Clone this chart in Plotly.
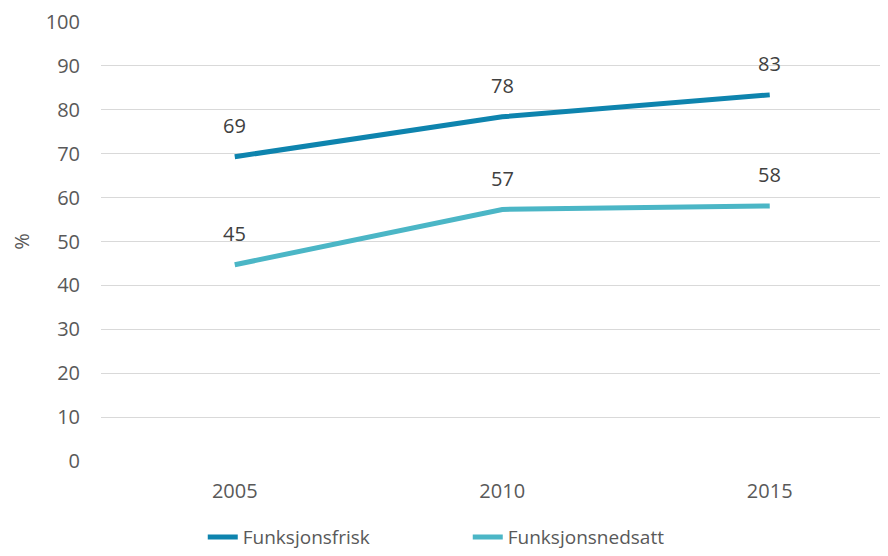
import plotly.graph_objects as go

years = ["2005", "2010", "2015"]
frisk = [69.3, 78.4, 83.4]
nedsatt = [44.7, 57.3, 58.1]
series_names = ["Funksjonsfrisk", "Funksjonsnedsatt"]
colors = ["#0e84ae", "#4bb6c6"]
y_ticks = list(range(0, 101, 10))

fig = go.Figure()
for name, vals, col in zip(series_names, [frisk, nedsatt], colors):
    fig.add_trace(go.Scatter(x=years, y=vals, mode="lines", name=name,
                             line=dict(color=col, width=5)))
    for i, yv in enumerate(vals):
        fig.add_annotation(x=i, y=yv, xref="x", yref="y", text=f"{yv:.0f}",
                           showarrow=False, yshift=31,
                           font=dict(size=20, color="#404040", family="Open Sans"))

fig.update_layout(
    width=888, height=556,
    margin=dict(l=93, r=0, t=14, b=103, autoexpand=False),
    plot_bgcolor="white", paper_bgcolor="white",
    font=dict(family="Open Sans", size=20, color="#595959"),
    showlegend=True,
    legend=dict(orientation="h", x=0.128, xanchor="left", y=-0.13, yanchor="top",
                font=dict(size=19, color="#595959"), entrywidth=220,
                entrywidthmode="pixels", traceorder="normal"),
)
fig.update_xaxes(type="category", range=[-0.5, 2.472], showgrid=False,
                 showline=False, zeroline=False, ticklabelstandoff=16,
                 tickfont=dict(size=20, color="#595959"))
fig.update_yaxes(range=[0, 100], tickvals=y_ticks, showgrid=True,
                 gridcolor="#d9d9d9", gridwidth=1, zeroline=False,
                 showline=False, ticklabelstandoff=20,
                 title=dict(text="%", standoff=20, font=dict(size=20, color="#595959")),
                 tickfont=dict(size=20, color="#595959"))

fig.write_html("out.html")
